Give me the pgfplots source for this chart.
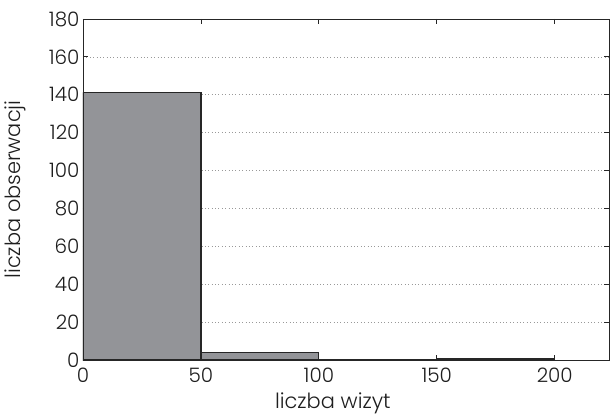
\documentclass[border=0pt]{standalone}
\usepackage{pgfplots}
\pgfplotsset{compat=1.18}
\usepackage{fontspec}
\setmainfont{Poppins Light}
\definecolor{barfill}{RGB}{147,148,152}
\definecolor{txt}{RGB}{30,30,30}
\begin{document}
\begin{tikzpicture}
\begin{axis}[
  scale only axis,
  width=526bp, height=341bp,
  xmin=0, xmax=223, ymin=0, ymax=180,
  xtick={0,50,100,150,200},
  ytick={0,20,...,180},
  tick pos=both,
  tick align=inside,
  major tick length=5bp,
  ymajorgrids,
  grid style={dash pattern=on 0.8pt off 2.6pt, gray!80, line width=0.6pt},
  axis line style={line width=0.8pt, black!85},
  tick style={line width=0.8pt, black!85},
  every tick label/.append style={font=\fontsize{20}{24}\selectfont, text=txt},
  xticklabel style={yshift=-4bp},
  /pgf/number format/assume math mode=true,
  xlabel={liczba wizyt},
  ylabel={liczba obserwacji},
  label style={font=\fontsize{21}{24}\selectfont, text=txt},
  xlabel style={at={(axis description cs:0.475,-0.128)}, anchor=center},
  ylabel style={at={(axis description cs:-0.1293,0.5)}, anchor=center},
]
\addplot[ybar interval, fill=barfill, draw=black!85, line width=1.2pt]
  coordinates {(0,141) (50,4) (100,0) (150,1) (200,1)};
\end{axis}
\pgfresetboundingbox
\useasboundingbox ([shift={(-83bp,-55bp)}]current axis.south west) rectangle ([shift={(3bp,19bp)}]current axis.north east);
\end{tikzpicture}
\end{document}
